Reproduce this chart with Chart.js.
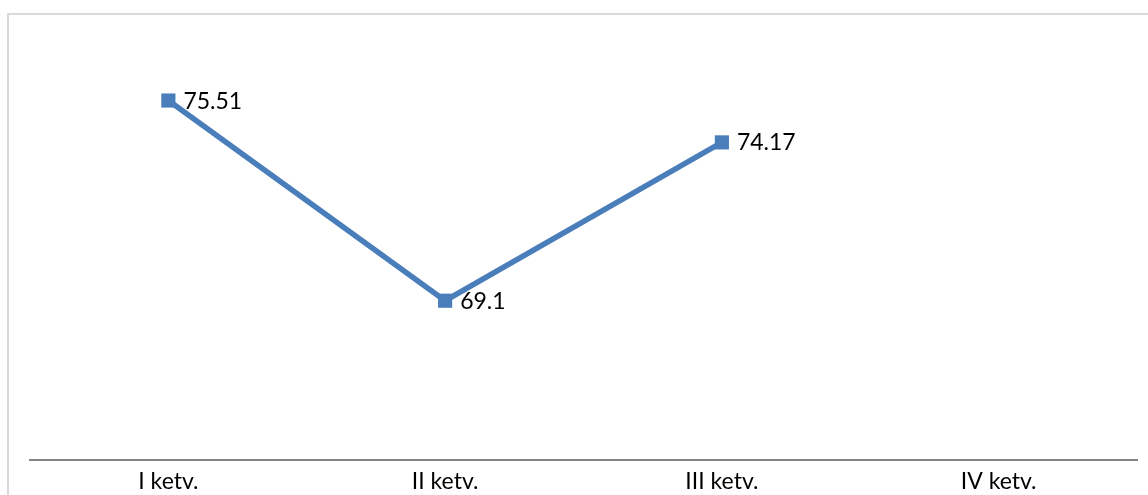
<!DOCTYPE html>
<html>
<head>
<meta charset="utf-8">
<script src="https://cdn.jsdelivr.net/npm/chart.js@4/dist/chart.umd.min.js"></script>
<style>
  html, body { margin: 0; padding: 0; background: #ffffff; }
  #wrap { position: relative; width: 1148px; height: 495px; overflow: hidden; }
  #frame { position: absolute; left: 7px; top: 13px; width: 1200px; height: 600px;
           border-left: 2px solid #d9d9d9; border-top: 2px solid #d9d9d9; box-sizing: border-box; }
  #c { position: absolute; left: 0; top: 0; }
</style>
</head>
<body>
<div id="wrap">
  <div id="frame"></div>
  <canvas id="c" width="1148" height="495"></canvas>
</div>
<script>
const categories = ["I ketv.", "II ketv.", "III ketv.", "IV ketv."];
const values = [75.51, 69.1, 74.17, null];
const yMin = 64;
const yMax = 77;

const FONT = "Lato, 'Open Sans', sans-serif";
const BLUE = "#4a7ebb";

const dataLabels = {
  id: "dataLabels",
  afterDatasetsDraw(chart) {
    const ctx = chart.ctx;
    const meta = chart.getDatasetMeta(0);
    ctx.save();
    ctx.font = "23px " + FONT;
    ctx.fillStyle = "#000000";
    ctx.textAlign = "left";
    ctx.textBaseline = "alphabetic";
    meta.data.forEach((pt, i) => {
      const v = values[i];
      if (v === null || v === undefined) return;
      ctx.fillText(String(v), pt.x + 15, pt.y + 8);
    });
    ctx.restore();
  }
};

new Chart(document.getElementById("c"), {
  type: "line",
  data: {
    labels: categories,
    datasets: [{
      data: values,
      borderColor: BLUE,
      backgroundColor: BLUE,
      borderWidth: 5.5,
      pointStyle: "rect",
      pointRadius: 10,
      pointBorderWidth: 0,
      pointBackgroundColor: BLUE,
      tension: 0,
      spanGaps: false
    }]
  },
  options: {
    responsive: false,
    animation: false,
    events: [],
    layout: { padding: { left: 30, right: 11, top: 54, bottom: 0 } },
    plugins: { legend: { display: false }, tooltip: { enabled: false } },
    scales: {
      x: {
        offset: true,
        grid: { display: false, drawTicks: false },
        border: { display: true, color: "#868686", width: 2 },
        ticks: { color: "#000000", font: { family: FONT, size: 23 }, padding: 8 },
        afterFit(s) { s.height = 35; }
      },
      y: {
        display: false,
        min: yMin,
        max: yMax
      }
    }
  },
  plugins: [dataLabels]
});
</script>
</body>
</html>
